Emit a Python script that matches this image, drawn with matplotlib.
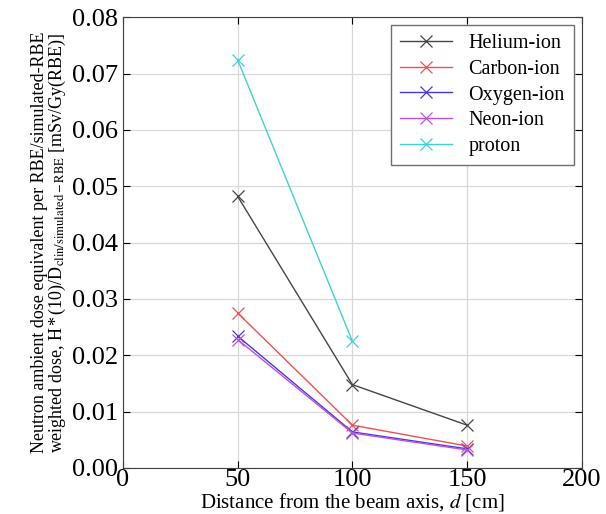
import numpy as np
import matplotlib
matplotlib.use('Agg')
import matplotlib.pyplot as plt

# 数据
distance = [50, 100, 150]
helium = [0.0482, 0.0148, 0.0076]
carbon = [0.0275, 0.0076, 0.0039]
oxygen = [0.0234, 0.0064, 0.0034]
neon = [0.0228, 0.0062, 0.0032]
proton_d = [50, 100]
proton = [0.0724, 0.0225]

plt.rcParams['font.family'] = ['Liberation Serif', 'DejaVu Serif']
plt.rcParams['mathtext.fontset'] = 'stix'

fig = plt.figure(figsize=(6.06, 5.14), dpi=100)
ax = fig.add_axes([0.203, 0.0895, 0.757, 0.877])

mk = dict(marker='x', markersize=8, linewidth=1.0, markeredgewidth=0.9)
ax.plot(distance, helium, color='#454545', label='Helium-ion', **mk)
ax.plot(distance, carbon, color='#f05050', label='Carbon-ion', **mk)
ax.plot(distance, oxygen, color='#4a3ad0', label='Oxygen-ion', **mk)
ax.plot(distance, neon, color='#c050e0', label='Neon-ion', **mk)
ax.plot(proton_d, proton, color='#40d0d8', label='proton', **mk)

ax.set_xlim(0, 200)
ax.set_ylim(0, 0.08)
ax.set_xticks([0, 50, 100, 150, 200])
ax.set_yticks(np.arange(0, 0.081, 0.01))
ax.set_yticklabels(['%.2f' % v for v in np.arange(0, 0.081, 0.01)])
ax.grid(True, color='#d8d8d8', linewidth=0.9)
ax.tick_params(direction='in', labelsize=19, length=5, top=True, right=True)
ax.tick_params(axis='x', pad=1)
for s in ax.spines.values():
    s.set_color('#404040')

ax.set_xlabel('Distance from the beam axis, $d$ [cm]', fontsize=15, labelpad=0)
ax.set_ylabel('Neutron ambient dose equivalent per RBE/simulated-RBE\n'
              'weighted dose, H$\\,$*$\\,$(10)/D$_{\\rm clin/simulated-RBE}$ [mSv/Gy(RBE)]',
              fontsize=13, labelpad=3, linespacing=0.9)

leg = ax.legend(loc='upper right', fontsize=14.5, fancybox=False, framealpha=1,
                edgecolor='#707070', handlelength=2.6, borderpad=0.45, labelspacing=0.32,
                borderaxespad=0.4)

fig.savefig('out.png', dpi=100)
